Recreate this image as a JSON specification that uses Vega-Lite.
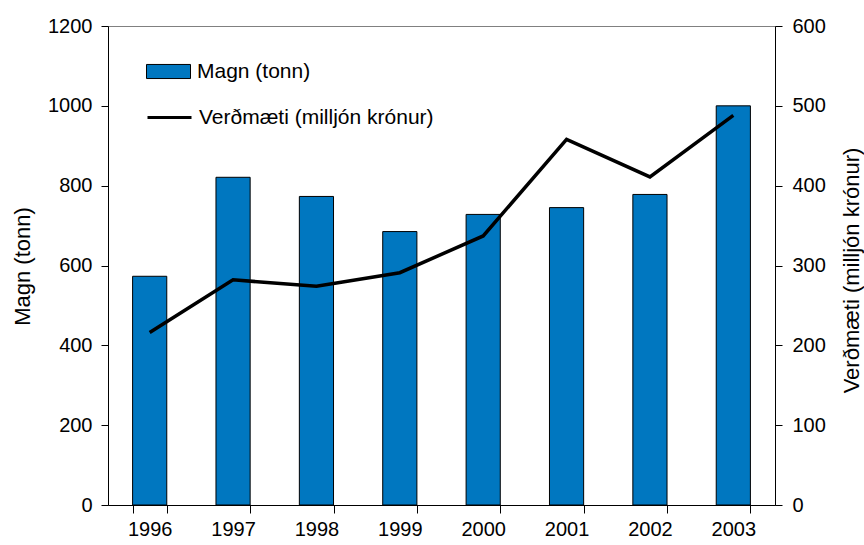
{
  "$schema": "https://vega.github.io/schema/vega-lite/v6.json",
  "width": 667,
  "height": 479,
  "autosize": "none",
  "padding": {"left": 108, "top": 26, "right": 89, "bottom": 40},
  "background": "white",
  "config": {
    "font": "Liberation Sans",
    "view": {"stroke": "#808080", "strokeWidth": 1},
    "axis": {"labelFont": "Liberation Sans", "titleFont": "Liberation Sans", "labelFontSize": 20, "titleFontSize": 22, "titleFontWeight": "normal", "labelColor": "black", "titleColor": "black", "domainColor": "black", "tickColor": "black", "grid": false},
    "legend": {"labelFont": "Liberation Sans", "labelFontSize": 21, "labelColor": "black", "padding": 0, "labelLimit": 500}
  },
  "data": {
    "values": [
      {"year": "1996", "magn": 573, "verd": 216},
      {"year": "1997", "magn": 821, "verd": 282},
      {"year": "1998", "magn": 773, "verd": 274},
      {"year": "1999", "magn": 685, "verd": 291},
      {"year": "2000", "magn": 728, "verd": 337},
      {"year": "2001", "magn": 745, "verd": 458},
      {"year": "2002", "magn": 778, "verd": 411},
      {"year": "2003", "magn": 1000, "verd": 488}
    ]
  },
  "encoding": {
    "x": {"field": "year", "type": "ordinal", "scale": {"paddingInner": 0.59, "paddingOuter": 0.295}, "axis": {"title": null, "labelAngle": 0, "tickBand": "extent", "tickSize": 8, "labelPadding": 6, "domainColor": "black"}}
  },
  "layer": [
    {
      "mark": {"type": "bar", "stroke": "black", "strokeWidth": 1},
      "encoding": {
        "y": {"field": "magn", "type": "quantitative", "scale": {"domain": [0, 1200]}, "axis": {"title": "Magn (tonn)", "format": "d", "values": [0, 200, 400, 600, 800, 1000, 1200], "tickSize": 7, "labelPadding": 9, "titleX": -86, "titleY": 240, "titleAngle": -90, "titleAlign": "center", "titleBaseline": "middle"}},
        "fill": {"datum": "Magn (tonn)", "scale": {"range": ["#0077C0"]}, "legend": {"title": null, "orient": "none", "legendX": 38, "legendY": 23, "symbolType": "M-1,-0.32H1V0.32H-1Z", "symbolSize": 1936, "symbolStrokeColor": "black", "symbolStrokeWidth": 1, "labelOffset": 6}}
      }
    },
    {
      "mark": {"type": "line", "color": "black", "strokeWidth": 3.5},
      "encoding": {
        "y": {"field": "verd", "type": "quantitative", "scale": {"domain": [0, 600]}, "axis": {"orient": "right", "title": "Verðmæti (milljón krónur)", "format": "d", "values": [0, 100, 200, 300, 400, 500, 600], "tickSize": 7, "labelPadding": 10, "titleX": 76, "titleY": 244, "titleAngle": -90, "titleAlign": "center", "titleBaseline": "middle"}},
        "stroke": {"datum": "Verðmæti (milljón krónur)", "scale": {"range": ["black"]}, "legend": {"title": null, "orient": "none", "legendX": 38, "legendY": 68, "symbolType": "stroke", "symbolSize": 1936, "symbolStrokeWidth": 3, "labelOffset": 6}}
      }
    }
  ],
  "resolve": {"scale": {"y": "independent"}}
}
